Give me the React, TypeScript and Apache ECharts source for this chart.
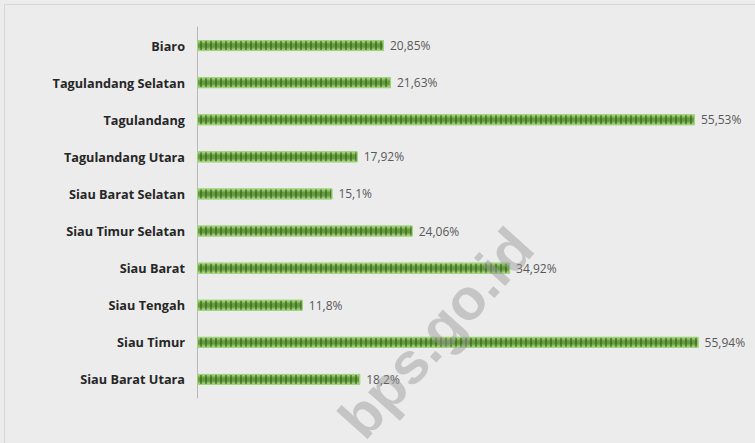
import React, { useEffect, useRef } from "react";
import * as echarts from "echarts";

const categories = [
  "Biaro",
  "Tagulandang Selatan",
  "Tagulandang",
  "Tagulandang Utara",
  "Siau Barat Selatan",
  "Siau Timur Selatan",
  "Siau Barat",
  "Siau Tengah",
  "Siau Timur",
  "Siau Barat Utara",
];
const values = [20.85, 21.63, 55.53, 17.92, 15.1, 24.06, 34.92, 11.8, 55.94, 18.2];

export default function App() {
  const ref = useRef<HTMLDivElement>(null);
  useEffect(() => {
    if (!ref.current) return;
    const chart = echarts.init(ref.current, null, { renderer: "svg" });
    chart.setOption({
      animation: false,
      backgroundColor: "#ececec",
      grid: { left: 197, right: 20, top: 27, bottom: 45, containLabel: false },
      xAxis: { type: "value", min: 0, max: 60, show: false },
      yAxis: {
        type: "category",
        data: categories,
        inverse: true,
        axisLine: { show: true, lineStyle: { color: "#b8b8b8", width: 1 } },
        axisTick: { show: false },
        axisLabel: {
          color: "#262626",
          fontFamily: "Open Sans",
          fontWeight: "bold",
          fontSize: 12.7,
          margin: 12,
        },
      },
      graphic: [
        {
          type: "rect",
          shape: { x: 4.5, y: 4.5, width: 800, height: 500 },
          style: { fill: "none", stroke: "#d6d6d6", lineWidth: 1 },
          silent: true,
        },
        {
          type: "text",
          x: 436,
          y: 333,
          rotation: (48 * Math.PI) / 180,
          z: 100,
          style: {
            text: "bps.go.id",
            font: "bold 58px Arial, 'Liberation Sans', sans-serif",
            fill: "rgba(150,150,150,0.45)",
            align: "center",
            verticalAlign: "middle",
          },
          silent: true,
        },
      ],
      series: [
        {
          type: "bar",
          data: values,
          barWidth: 11,
          itemStyle: {
            borderColor: "#9fd47a",
            borderWidth: 1,
            color: {
              type: "linear",
              x: 0,
              y: 0,
              x2: 0,
              y2: 1,
              colorStops: [
                { offset: 0, color: "#b3de8c" },
                { offset: 0.35, color: "#679c3e" },
                { offset: 0.65, color: "#679c3e" },
                { offset: 1, color: "#b3de8c" },
              ],
            },
            decal: {
              symbol: "rect",
              symbolSize: 1,
              dashArrayX: [2, 3],
              dashArrayY: [40, 0],
              rotation: 0,
              color: "rgba(45,90,25,0.55)",
            },
          },
          label: {
            show: true,
            position: "right",
            distance: 6,
            color: "#595959",
            fontFamily: "Open Sans",
            fontSize: 12,
            formatter: (p: any) => String(p.value).replace(".", ",") + "%",
          },
        },
      ],
    });
    return () => chart.dispose();
  }, []);
  return (
    <div
      ref={ref}
      style={{ position: "fixed", left: 0, top: 0, width: 755, height: 443 }}
    />
  );
}
